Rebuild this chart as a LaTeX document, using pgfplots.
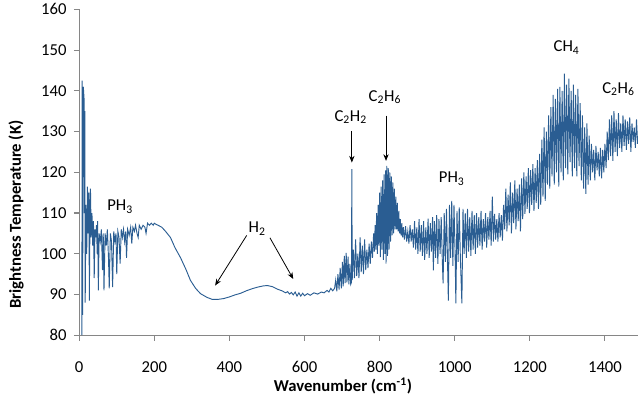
\documentclass[border=0pt]{standalone}
\usepackage{fontspec}
\setmainfont{Carlito}
\usepackage{pgfplots}
\pgfplotsset{compat=1.18}
\usetikzlibrary{arrows.meta}
\definecolor{specblue}{HTML}{2A5D92}
\definecolor{axisgray}{HTML}{868686}

\begin{document}
\begin{tikzpicture}
\useasboundingbox (-59.4pt,-50.1pt) rectangle (419.1pt,251.4pt);
\begin{axis}[
  scale only axis, width=419.1pt, height=244.35pt,
  at={(0,0)}, anchor=south west,
  xmin=0, xmax=1488, ymin=80, ymax=160,
  xtick={0,200,...,1400}, ytick={80,90,...,160},
  axis lines=left,
  axis line style={-, draw=axisgray, line width=0.8pt},
  tick align=outside, major tick length=4pt,
  tick style={axisgray, line width=0.8pt},
  font=\fontsize{12.5}{14}\selectfont,
  /pgf/number format/assume math mode=true,
  /pgf/number format/1000 sep={},
  xticklabel style={yshift=-12pt},
  yticklabel style={xshift=-2pt},
  xlabel={\bfseries Wavenumber (cm\textsuperscript{-1})},
  ylabel={\bfseries Brightness Temperature (K)},
  xlabel style={at={(axis description cs:0.472,-0.155)}, anchor=center},
  ylabel style={at={(axis description cs:-0.113,0.37)}, anchor=center},
  clip=false,
]
\addplot[specblue, line width=0.7pt] coordinates {
(7,80) (8,142.5) (9,85) (11,141) (13,138) (14,110) (15,135) (16,88) (18,112) (20,100)
(22,116.5) (24,105) (26,115) (27,88.5) (29,112) (30,116) (32,104) (34,110) (36,102) (38,108)
(40,94) (42,106) (44,104) (46,107) (48,100) (49,108) (51,91) (53,105) (56,103) (59,106)
(62,96) (64,105) (66,91) (69,105) (72,102) (75,106) (78,99) (80,91.5) (83,105) (86,103)
(89,91.8) (92,105.5) (95,103) (98,105) (100,95) (103,105.5) (106,104) (109,97.6) (112,106) (115,104)
(118,106) (121,103) (124,105.5) (126,99) (129,106) (133,104.5) (137,106.5) (140,102.5) (143,106.5) (147,105.5)
(150,107) (154,105) (157,104) (160,107) (165,106) (170,107) (175,106.5) (178,105) (182,107.5) (187,107)
(192,107.5) (197,107) (200,107.5) (205,107.2) (210,107)
(220,106.5) (230,105.5) (243,104) (255,101.5) (270,99) (285,96) (296,93.5) (310,91.5) (323,90.2) (340,89.3)
(354,88.8) (370,88.8) (385,89) (400,89.4) (415,89.9) (430,90.3) (445,90.9) (460,91.4) (475,91.8) (490,92.1)
(501,92.2) (515,91.9) (528,91.3) (540,90.9) (550,90.4) (555,90.7) (560,90.1) (565,90.5) (570,89.9) (575,90.6)
(580,89.6) (585,90.4) (590,89.6) (595,90.3) (600,89.7) (608,90.2) (615,89.8) (625,90.4) (635,90.1) (645,90.6)
(652,90.4) (660,91) (665,90.6) (670,91.5) (675,90.9) (680,91.5)
(683,93.5) (686,90.8) (689,95) (692,91.2) (695,96.5) (698,91.5) (701,98) (703,92) (706,99.5) (708,92.8)
(711,100.2) (713,93) (716,99.3) (718,92.5) (721,97.5) (723,92.5) (725,93) (726,120.8) (727,93.5)
(730,101) (733,94) (736,103.5) (739,94.5) (742,100) (745,94) (748,104) (751,95.5) (754,102) (757,95)
(760,103.5) (763,96) (766,101) (769,96.5) (772,102.5) (775,97.5) (778,103) (781,99)
(784,105) (786,100.5) (788,107) (790,101) (792,110) (794,100) (796,112) (798,102) (800,115) (802,99.2)
(804,116.5) (806,101) (808,118) (810,98.5) (812,119.5) (814,100) (816,120.5) (817,97.6) (819,121.6) (821,99.5)
(823,121) (825,101) (827,120) (829,103) (831,119) (833,104.5) (835,117.5) (837,105) (839,116) (841,106)
(843,114) (845,106) (847,112.5) (849,105.5) (851,110.5) (853,105) (855,108.5) (857,104.5) (859,107.5) (861,104)
(863,106.5) (866,103.5)
(869,106.8) (872,103) (875,105.5) (878,102.5) (881,107) (884,103) (887,106) (890,101.5) (893,108) (896,101)
(899,106.5) (902,100) (905,108.5) (908,100.5) (911,107) (914,99.5) (917,108) (920,98.5) (923,106.5) (926,100)
(929,108.6) (932,99) (935,107.5) (938,100.5) (941,109) (943,95.9) (946,108) (949,99) (952,109.5) (955,97.5)
(958,108.5) (961,100) (964,109) (967,98) (969,92.7) (972,110) (975,98) (978,111) (981,97) (983,88.5)
(986,112) (989,99) (992,113) (995,97) (998,112) (1001,100) (1003,87.8) (1006,110.5) (1009,98) (1012,111.4)
(1015,99) (1019,87.8) (1022,111) (1025,100) (1028,110) (1031,99) (1034,111) (1037,100.5) (1040,109) (1043,99.5)
(1046,110.5) (1049,101) (1052,109.5) (1055,100) (1058,110) (1061,101.5) (1064,109) (1067,102) (1070,110.5) (1073,101)
(1076,108.5) (1079,103) (1082,110) (1085,101.5) (1088,109) (1091,103.5) (1094,110.5) (1097,102) (1100,114) (1103,103)
(1106,109.8) (1109,103.5) (1112,108.5) (1115,103) (1118,110) (1121,104) (1124,109.5) (1127,103.2) (1130,112)
(1133,106) (1136,116) (1139,105.5) (1142,114.5) (1145,107) (1148,117.5) (1151,105) (1154,115) (1157,107.5) (1160,118)
(1163,106) (1166,116) (1169,108) (1172,117) (1175,105.5) (1178,118.5) (1181,108.5)
(1184,120) (1187,109.8) (1190,119) (1193,111) (1196,121) (1199,110) (1202,120.5) (1205,112) (1208,122) (1211,110.5)
(1214,121) (1217,112.5) (1220,123) (1223,111) (1226,124.5)
(1229,112) (1232,128) (1235,114) (1238,131) (1241,113) (1244,130) (1247,117) (1250,134) (1253,116) (1256,136)
(1259,119) (1262,139) (1265,117) (1268,138) (1271,120) (1274,140.5) (1277,116.5) (1280,141) (1283,120) (1286,140)
(1289,118) (1292,144.2) (1295,121)
(1298,141.5) (1301,119.5) (1304,143) (1307,122.5) (1310,140) (1313,119) (1316,141.5) (1319,121) (1322,139) (1325,119)
(1328,140.5) (1331,121.5) (1334,137)
(1337,118) (1340,134) (1343,116) (1346,131) (1349,114.7) (1352,132) (1355,117) (1358,129) (1361,118)
(1364,127) (1367,120) (1370,125.5) (1373,118) (1376,126.5) (1379,120.5) (1382,125) (1385,119) (1388,126) (1391,118.5)
(1394,125.5) (1397,120) (1400,127) (1403,121)
(1406,130) (1409,123) (1412,133) (1415,124) (1418,134) (1421,122.8) (1424,135) (1427,125) (1430,133) (1433,124)
(1436,134.5) (1439,126) (1442,132) (1445,125) (1448,134) (1451,126.5) (1454,133) (1457,125.5) (1460,132.5) (1463,127)
(1466,133.5) (1469,125) (1472,132) (1475,127.5) (1478,131) (1481,126) (1484,133) (1487,127)
};
% annotations
\node at (axis cs:109,111.6) {PH\textsubscript{3}};
\node at (axis cs:474,106.2) {H\textsubscript{2}};
\draw[-{Stealth[length=5pt,width=4pt]}, line width=0.6pt] (axis cs:446,104.5) -- (axis cs:362,92.2);
\draw[-{Stealth[length=5pt,width=4pt]}, line width=0.6pt] (axis cs:508,103.9) -- (axis cs:570,93.8);
\node at (axis cs:723,133.5) {C\textsubscript{2}H\textsubscript{2}};
\draw[-{Stealth[length=5pt,width=4pt]}, line width=0.6pt] (axis cs:726,130.2) -- (axis cs:726,122.4);
\node at (axis cs:814,138.4) {C\textsubscript{2}H\textsubscript{6}};
\draw[-{Stealth[length=5pt,width=4pt]}, line width=0.6pt] (axis cs:817,133.9) -- (axis cs:817,122.8);
\node at (axis cs:992,118.4) {PH\textsubscript{3}};
\node at (axis cs:1298,150.6) {CH\textsubscript{4}};
\node at (axis cs:1436,140.4) {C\textsubscript{2}H\textsubscript{6}};
\end{axis}
\end{tikzpicture}
\end{document}
